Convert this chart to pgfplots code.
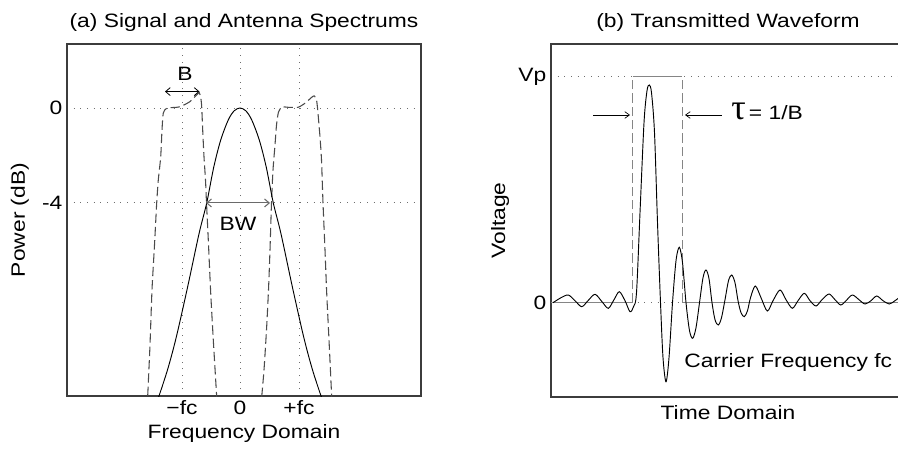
\documentclass[border=0pt]{standalone}
\usepackage{fontspec}
\setmainfont{Liberation Sans}[FakeStretch=1.18]
\newfontfamily\taufont{Liberation Serif}
\usepackage{pgfplots}
\pgfplotsset{compat=1.18}
\usetikzlibrary{arrows.meta}

\definecolor{axgray}{HTML}{3C3C3C}
\definecolor{dashgray}{HTML}{4A4A4A}
\definecolor{gridgray}{HTML}{6E6E6E}
\definecolor{pulsegray}{HTML}{858585}

\pgfplotsset{
  base/.style={
    scale only axis, anchor=south west, width=265.5pt,
    font=\fontsize{14.5}{16}\selectfont,
    axis line style={axgray, line width=0.8pt},
    major tick length=0pt,
    tick style={draw=none},
    grid style={gridgray, line width=0.7pt, dash pattern=on 0.7pt off 4.3pt},
    clip=true,
  },
}

\begin{document}
\begin{tikzpicture}
% ---------------- (a) Signal and Antenna Spectrums ----------------
\begin{axis}[base,
  at={(50.25pt,43.5pt)}, height=264pt,
  xmin=-173, xmax=181, ymin=-12.13, ymax=2.695,
  xtick={-58,0,59}, xticklabels={−fc,0,+fc},
  ytick={-4,0}, yticklabels={-4,0},
  xmajorgrids, ymajorgrids,
  title={(a) Signal and Antenna Spectrums},
  xlabel={Frequency Domain}, ylabel={Power (dB)},
  ylabel style={xshift=0pt, yshift=3pt},
]
% antenna spectrum (dashed), lower band
\addplot[dashgray, line width=0.8pt, dash pattern=on 7pt off 3pt, smooth, tension=0.4] coordinates {
 (-92.3,-12.13) (-90,-9.98) (-88,-7.66) (-85.5,-5.77) (-83.3,-4.00) (-81.7,-3.03)
 (-79.3,-2.06) (-78,-0.93) (-76.7,-0.21) (-73.3,-0.01) (-67,0.02) (-60,0.05)
 (-50,0.27) (-43.3,0.55) (-40.7,0.64) (-39.2,0.42) (-38.3,0.05) (-37.3,-0.93)
 (-36,-2.06) (-34.5,-3.03) (-33.5,-4.00) (-31.7,-5.56) (-29.3,-7.79) (-26.7,-9.77) (-23.3,-12.17)
};
% antenna spectrum (dashed), upper band
\addplot[dashgray, line width=0.8pt, dash pattern=on 7pt off 3pt, smooth, tension=0.4] coordinates {
 (21.7,-12.17) (24,-11.03) (26.5,-9.35) (28.5,-7.66) (30,-5.98) (31.5,-4.00)
 (33,-2.61) (35,-1.56) (36.5,-0.72) (38.5,-0.17) (42,0.04) (48,0.03) (58,0.03)
 (65,0.20) (71.7,0.45) (74.3,0.51) (76.5,0.34) (77.7,-0.08) (79,-0.72) (80,-1.22)
 (81.5,-2.19) (83,-4.00) (85,-5.98) (86.7,-7.79) (89,-9.77) (91.7,-12.17)
};
% signal spectrum (solid)
\addplot[black, line width=0.7pt, smooth] coordinates {
 (-84,-12.5) (-73,-11.1) (-64,-9.7) (-52.7,-7.6) (-41,-5.3) (-33.3,-4.0) (-26.3,-2.5)
 (-19.3,-1.35) (-11.7,-0.5) (-5.85,-0.12) (0,0) (5.85,-0.12) (11.7,-0.5) (19.3,-1.35)
 (26.3,-2.5) (33.3,-4.0) (41,-5.3) (52.7,-7.6) (64,-9.7) (73,-11.1) (84,-12.5)
};
\draw[black, line width=0.6pt, {Straight Barb[length=3.5pt,width=6pt]}-{Straight Barb[length=3.5pt,width=6pt]}]
  (axis cs:-75,0.69) -- (axis cs:-40.5,0.69);
\node[font=\fontsize{14.5}{16}\selectfont] at (axis cs:-55,1.45) {B};
\draw[pulsegray!80!black, line width=0.8pt, {Straight Barb[length=3.5pt,width=6pt]}-{Straight Barb[length=3.5pt,width=6pt]}]
  (axis cs:-34,-4) -- (axis cs:30,-4);
\node[font=\fontsize{14.5}{16}\selectfont] at (axis cs:-2,-4.9) {BW};
\end{axis}

% ---------------- (b) Transmitted Waveform ----------------
\begin{axis}[base,
  at={(413.25pt,42.75pt)}, height=264.75pt,
  xmin=0, xmax=354, ymin=-94.3, ymax=258.7,
  xtick=\empty,
  ytick={0,226}, yticklabels={0,Vp},
  ymajorgrids,
  title={(b) Transmitted Waveform},
  xlabel={Time Domain}, ylabel={Voltage},
  xlabel style={yshift=-3pt},
]
% rectangular pulse
\addplot[pulsegray, line width=0.8pt] coordinates {(0,0) (81.7,0)};
\addplot[pulsegray, line width=0.8pt] coordinates {(131.3,0) (354,0)};
\addplot[pulsegray, line width=0.8pt] coordinates {(81.7,226) (131.3,226)};
\addplot[pulsegray, line width=0.8pt, dash pattern=on 7pt off 3pt] coordinates {(81.7,0) (81.7,226)};
\addplot[pulsegray, line width=0.8pt, dash pattern=on 7pt off 3pt] coordinates {(131.3,0) (131.3,226)};
% transmitted waveform
\addplot[black, line width=0.7pt, smooth, tension=0.5] coordinates {
 (2,0) (10,5) (17.3,7.7) (24,2) (30.7,-4) (37,2) (44,8.4) (51,1) (57.3,-5.6) (63,3)
 (68.3,11) (74,2) (79,-9) (82.5,-4) (85.5,10) (89,90) (93,180) (96,212) (98.3,217.7)
 (100.5,210) (103.5,170) (106.5,80) (109.5,0) (112,-55) (115,-79) (118,-55) (121.5,0)
 (125,42) (128.3,55.4) (131.5,40) (135,0) (138.5,-28) (141.7,-35.6) (145,-25) (148.5,0)
 (152,25) (155,32.7) (158,24) (161,0) (164,-17) (167.3,-22.3) (170.5,-15) (174,3)
 (177.5,22) (180.7,27.7) (184,20) (187,2) (190,-10) (193.3,-14) (196.5,-8) (199.5,5)
 (204.3,16.7) (210,5) (216.3,-8.3) (222,2) (229,12.7) (235,3) (241.3,-5.6) (247,2)
 (253.3,9.4) (259,2) (265,-3.3) (271,3) (278,8.7) (284,3) (289.7,-2.3) (295,2)
 (301.3,7.7) (308,3) (314,-1.3) (320,2) (325.7,6.7) (332,2) (338.3,-1.3) (344,2) (350,6) (354,4)
};
\draw[black, line width=0.5pt, -{Straight Barb[length=3.5pt,width=5pt]}] (axis cs:42,187.7) -- (axis cs:79,187.7);
\draw[black, line width=0.5pt, -{Straight Barb[length=3.5pt,width=5pt]}] (axis cs:170.7,187.7) -- (axis cs:134,187.7);
\node[anchor=west, inner sep=0pt] at (axis cs:180,191) {{\taufont\fontsize{27}{27}\selectfont τ}\,{\fontsize{14.5}{16}\selectfont = 1/B}};
\node[anchor=west, inner sep=0pt, font=\fontsize{14.5}{16}\selectfont] at (axis cs:133,-60) {Carrier Frequency fc};
\end{axis}

\pgfresetboundingbox
\useasboundingbox (0,0) rectangle (673.5pt,340.5pt);
\end{tikzpicture}
\end{document}
